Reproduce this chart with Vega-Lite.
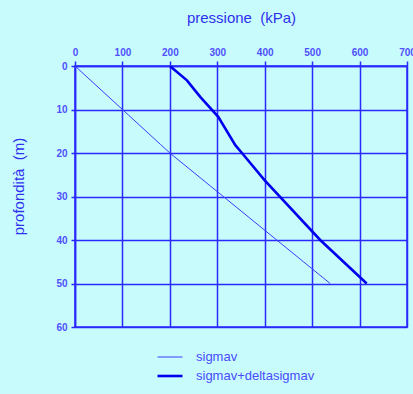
{
  "$schema": "https://vega.github.io/schema/vega-lite/v6.json",
  "autosize": {"type": "none"},
  "padding": {"left": 75, "top": 66, "right": 6, "bottom": 67},
  "width": 332,
  "height": 261,
  "background": "#c8fcfc",
  "config": {
    "view": {"stroke": "#2a2aff", "strokeWidth": 1.5, "fill": "#c8fcfc"},
    "font": "Liberation Sans"
  },
  "data": {
    "values": [
      {"serie": "sigmav", "p": 0, "z": 0},
      {"serie": "sigmav", "p": 100, "z": 10},
      {"serie": "sigmav", "p": 180, "z": 18},
      {"serie": "sigmav", "p": 200, "z": 20},
      {"serie": "sigmav", "p": 538, "z": 50},
      {"serie": "sigmav+deltasigmav", "p": 200, "z": 0},
      {"serie": "sigmav+deltasigmav", "p": 236, "z": 3.3},
      {"serie": "sigmav+deltasigmav", "p": 264, "z": 7.1},
      {"serie": "sigmav+deltasigmav", "p": 302, "z": 11.7},
      {"serie": "sigmav+deltasigmav", "p": 338, "z": 18.2},
      {"serie": "sigmav+deltasigmav", "p": 352, "z": 20},
      {"serie": "sigmav+deltasigmav", "p": 400, "z": 26.3},
      {"serie": "sigmav+deltasigmav", "p": 517, "z": 40},
      {"serie": "sigmav+deltasigmav", "p": 615, "z": 50}
    ]
  },
  "mark": {"type": "line", "clip": true},
  "encoding": {
    "x": {
      "field": "p", "type": "quantitative",
      "scale": {"domain": [0, 700], "nice": false, "zero": false},
      "axis": {
        "orient": "top", "title": "pressione\u00a0 (kPa)", "values": [0,100,200,300,400,500,600,700],
        "grid": true, "gridColor": "#2a2aff", "gridWidth": 1.5, "gridOpacity": 1,
        "domainColor": "#2a2aff", "domainWidth": 1.5,
        "tickColor": "#2a2aff", "tickWidth": 1.5, "tickSize": 5,
        "labelColor": "#5050ff", "labelFontSize": 10, "labelFontWeight": "bold", "labelPadding": 4,
        "labelOverlap": false, "labelFlush": false,
        "titleColor": "#3030f0", "titleFontSize": 15, "titleFontWeight": "normal", "titlePadding": 22
      }
    },
    "y": {
      "field": "z", "type": "quantitative",
      "scale": {"domain": [0, 60], "reverse": true, "nice": false},
      "axis": {
        "title": "profondità\u00a0 (m)", "values": [0,10,20,30,40,50,60],
        "grid": true, "gridColor": "#2a2aff", "gridWidth": 1.5, "gridOpacity": 1,
        "domainColor": "#2a2aff", "domainWidth": 1.5,
        "tickColor": "#2a2aff", "tickWidth": 1.5, "tickSize": 4,
        "labelColor": "#5050ff", "labelFontSize": 10, "labelFontWeight": "bold", "labelPadding": 4,
        "titleColor": "#3030f0", "titleFontSize": 15, "titleFontWeight": "normal", "titlePadding": 29, "titleY": 120
      }
    },
    "color": {
      "field": "serie", "type": "nominal",
      "scale": {"domain": ["sigmav", "sigmav+deltasigmav"], "range": ["#3c3cff", "#0000ee"]},
      "legend": {
        "title": null, "orient": "none", "legendX": 87, "legendY": 284,
        "symbolType": "M-2,0L2,0", "symbolSize": 156, "labelOffset": 18,
        "labelColor": "#4a4aff", "labelFontSize": 13, "rowPadding": 4
      }
    },
    "strokeWidth": {
      "field": "serie", "type": "nominal",
      "scale": {"domain": ["sigmav", "sigmav+deltasigmav"], "range": [1, 2.6]},
      "legend": {
        "title": null, "orient": "none", "legendX": 87, "legendY": 284,
        "symbolType": "M-2,0L2,0", "symbolSize": 156, "labelOffset": 18,
        "labelColor": "#4a4aff", "labelFontSize": 13, "rowPadding": 4
      }
    }
  }
}
